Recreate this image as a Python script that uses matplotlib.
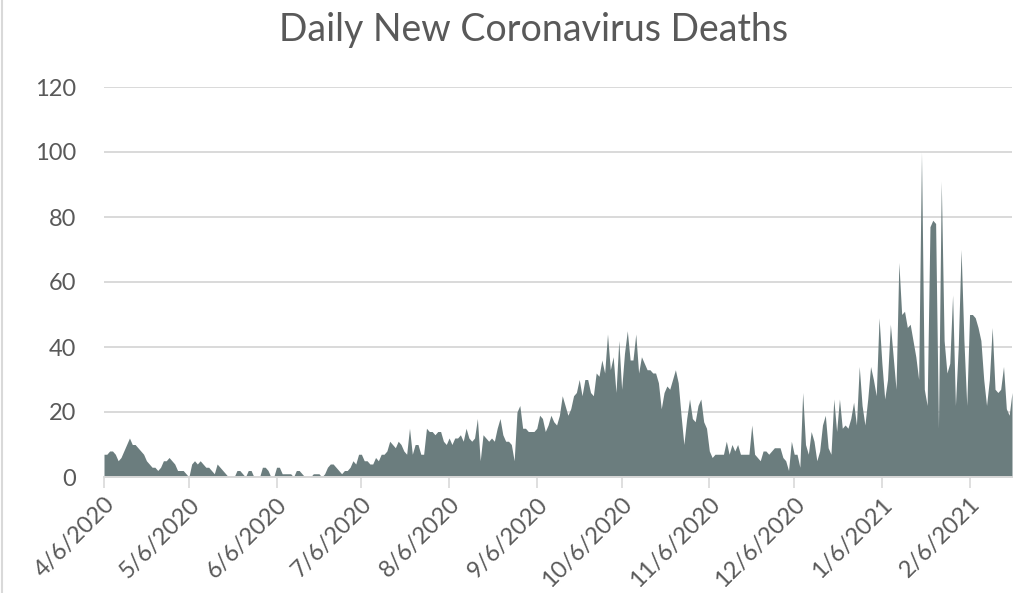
import pandas as pd
import matplotlib
matplotlib.use("Agg")
import matplotlib.pyplot as plt
from matplotlib.lines import Line2D

# daily new deaths (4/6/2020 .. 2/21/2021)
apr = [7, 7, 8, 8, 7, 5, 6, 8, 10, 12, 10, 10, 9, 8, 7, 5, 4, 3, 3, 2, 3, 5, 5, 6, 5]
may = [4, 2, 2, 2, 1, 0, 4, 5, 4, 5, 4, 3, 3, 2, 1, 4, 3, 2, 1, 0, 0, 0, 2, 2, 1, 0, 2, 2, 0, 0, 0]
jun = [3, 3, 2, 0, 0, 3, 3, 1, 1, 1, 1, 0, 2, 2, 1, 0, 0, 0, 1, 1, 1, 0, 1, 3, 4, 4, 3, 2, 1, 2]
jul = [2, 3, 5, 4, 7, 7, 5, 5, 4, 4, 6, 5, 7, 7, 8, 11, 10, 9, 11, 10, 8, 7, 15, 7, 10, 10, 7, 7, 15, 14, 14]
aug = [13, 14, 14, 11, 10, 12, 10, 12, 12, 13, 11, 15, 12, 11, 12, 18, 5, 13, 12, 11, 12, 11, 15, 18, 13,
       11, 11, 10, 5, 20, 22]
sep = [15, 15, 14, 14, 14, 15, 19, 18, 14, 16, 19, 17, 16, 19, 25, 22, 19, 21, 25, 26, 30, 25, 30, 30, 26,
       25, 32, 31, 36, 32]
oct_ = [44, 33, 37, 26, 42, 27, 38, 45, 36, 36, 44, 32, 37, 35, 33, 33, 32, 32, 29, 21, 26, 28, 27, 30, 33,
        29, 19, 10, 18, 24, 18]
nov = [17, 22, 24, 17, 15, 8, 6, 7, 7, 7, 7, 11, 7, 10, 8, 10, 7, 7, 7, 7, 16, 7, 6, 5, 8, 8, 7, 8, 9, 9]
dec = [9, 6, 5, 2, 11, 7, 7, 3, 26, 10, 7, 14, 11, 5, 8, 16, 19, 9, 7, 24, 14, 24, 15, 16, 15, 18, 23, 16,
       34, 22, 16]
jan = [24, 34, 30, 25, 49, 35, 24, 30, 47, 37, 27, 66, 50, 51, 46, 47, 42, 37, 30, 100, 27, 22, 77, 79, 78,
       15, 91, 42, 32, 35, 56]
feb = [22, 40, 70, 42, 22, 50, 50, 49, 46, 42, 30, 22, 30, 46, 27, 26, 27, 34, 21, 19, 26]

deaths = apr + may + jun + jul + aug + sep + oct_ + nov + dec + jan + feb
dates = pd.date_range("2020-04-06", periods=len(deaths), freq="D")

tick_dates = pd.date_range("2020-04-01", "2021-02-01", freq="MS") + pd.Timedelta(days=5)
tick_labels = [f"{d.month}/{d.day}/{d.year}" for d in tick_dates]
y_ticks = [0, 20, 40, 60, 80, 100, 120]

plt.rcParams["font.family"] = ["Lato", "DejaVu Sans"]
grey_text = "#595959"
grid_col = "#d9d9d9"

fig = plt.figure(figsize=(10.14, 5.93), dpi=100)
ax = fig.add_axes([104 / 1014, 1 - 477 / 593, (1012 - 104) / 1014, (477 - 87) / 593])

ax.fill_between(dates, deaths, 0, color="#6b7d7e", linewidth=0)

ax.set_xlim(dates[0], dates[-1])
ax.set_ylim(0, 120)
ax.set_yticks(y_ticks)
ax.set_yticklabels([str(v) for v in y_ticks], fontsize=17, color=grey_text)
ax.yaxis.grid(True, color=grid_col, linewidth=1.4)
ax.set_axisbelow(True)
ax.tick_params(axis="y", length=0, pad=20)

ax.set_xticks(tick_dates)
ax.set_xticklabels(tick_labels, rotation=45, ha="right", va="top", rotation_mode="anchor",
                   fontsize=17, color=grey_text)
ax.tick_params(axis="x", length=8, width=1.2, color=grid_col, pad=4)

for s in ["top", "right", "left"]:
    ax.spines[s].set_visible(False)
ax.spines["bottom"].set_color(grid_col)
ax.spines["bottom"].set_linewidth(1.4)
ax.spines["bottom"].set_zorder(3)

fig.text(0.526, 0.949, "Daily New Coronavirus Deaths", ha="center", va="center",
         fontsize=27, color=grey_text)
fig.add_artist(Line2D([0.002, 0.002], [0, 1], color="#d9d9d9", linewidth=1.5))

fig.savefig("out.png", dpi=100)
